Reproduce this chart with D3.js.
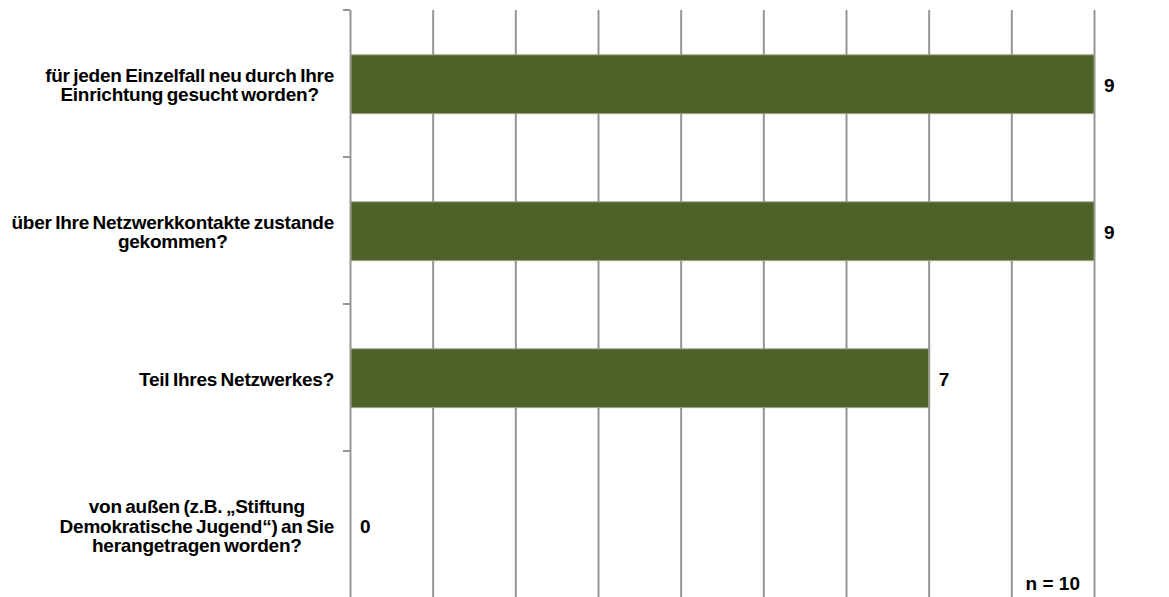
<!DOCTYPE html>
<html>
<head>
<meta charset="utf-8">
<script src="https://cdn.jsdelivr.net/npm/d3@7"></script>
<style>
  html, body { margin: 0; padding: 0; background: #fff; }
  svg { display: block; }
  text { font-family: "Liberation Sans", Arial, sans-serif; font-weight: bold; fill: #000; }
</style>
</head>
<body>
<svg id="chart" width="1169" height="597"></svg>
<script>
// ---- data ----
const categories = [
  ["für jeden Einzelfall neu durch Ihre", "Einrichtung gesucht worden?"],
  ["über Ihre Netzwerkkontakte zustande", "gekommen?"],
  ["Teil Ihres Netzwerkes?"],
  ["von außen (z.B. „Stiftung", "Demokratische Jugend“) an Sie", "herangetragen worden?"]
];
const values = [9, 9, 7, 0];
const xTicks = [0, 1, 2, 3, 4, 5, 6, 7, 8, 9];
const noteText = "n = 10";

// ---- layout ----
const svg = d3.select("#chart");
const margin = { left: 350, right: 75, top: 10, bottom: -1 };
const W = 1169, H = 597;
const x0 = margin.left, x1 = W - margin.right;
const y0 = margin.top, y1 = H - margin.bottom;

const x = d3.scaleLinear().domain([0, 9]).range([x0, x1]);
const y = d3.scaleBand().domain(d3.range(categories.length)).range([y0, y1]).padding(0);

const gridColor = "#959595";

// gridlines
const gx = svg.append("g").attr("transform", `translate(0,${y0})`)
  .call(d3.axisBottom(x).tickValues(xTicks).tickSize(y1 - y0).tickFormat(""));
gx.select(".domain").remove();
gx.selectAll(".tick line").attr("stroke", gridColor).attr("stroke-width", 2);

// category tick marks on left axis (at band boundaries)
const bounds = d3.range(categories.length + 1).map(i => i < categories.length ? y(i) : y1);
svg.append("g").selectAll("line").data(bounds).join("line")
  .attr("x1", x0 - 7).attr("x2", x0)
  .attr("y1", d => d).attr("y2", d => d)
  .attr("stroke", gridColor).attr("stroke-width", 2);

// bars
const bw = y.bandwidth();
svg.append("g").selectAll("rect").data(values).join("rect")
  .attr("x", x(0) + 1)
  .attr("y", (d, i) => y(i) + bw * 0.305)
  .attr("width", d => Math.max(0, x(d) - x(0) - 1))
  .attr("height", bw * 0.4)
  .attr("fill", d => d > 0 ? "#4f6228" : "none")
  .attr("stroke", d => d > 0 ? "#9aa28a" : "none")
  .attr("stroke-width", 1);

// value labels
svg.append("g").selectAll("text").data(values).join("text")
  .attr("x", d => x(d) + 10)
  .attr("y", (d, i) => y(i) + bw / 2 + 8)
  .attr("font-size", 19)
  .text(d => d);

// category labels (block right-aligned to axis, lines centered in block)
const lineH = 19.5;
const labelRight = x0 - 16;
const lg = svg.append("g");
categories.forEach((lines, i) => {
  const cy = y(i) + bw / 2;
  const t = lg.append("text").attr("font-size", 19)
    .attr("letter-spacing", -0.25).attr("word-spacing", -1.5)
    .attr("text-anchor", "middle");
  const tspans = lines.map((ln, k) => t.append("tspan")
    .attr("y", cy - (lines.length - 1) * lineH / 2 + k * lineH + 8)
    .text(ln));
  const widths = tspans.map(s => s.node().getComputedTextLength());
  const maxW = d3.max(widths);
  tspans.forEach(s => s.attr("x", labelRight - maxW / 2));
});

// note
svg.append("text")
  .attr("x", x(9) - 14).attr("y", H - 7)
  .attr("text-anchor", "end")
  .attr("font-size", 19)
  .text(noteText);
</script>
</body>
</html>
